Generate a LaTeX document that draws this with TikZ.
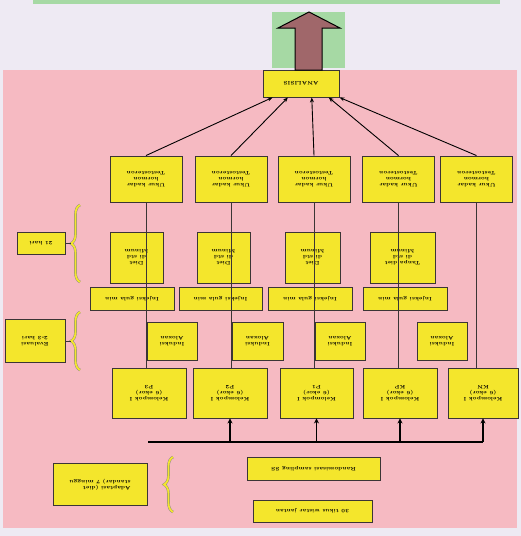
\documentclass[tikz,border=0pt]{standalone}
\usepackage{fontspec}
\usepackage{xcolor}
\usepackage{tikz}
\usetikzlibrary{arrows.meta,calc,decorations.pathreplacing}
\definecolor{lav}{HTML}{EEEAF3}
\definecolor{pinkbg}{HTML}{F6BAC2}
\definecolor{boxY}{HTML}{F4E62C}
\definecolor{boxD}{HTML}{3B3535}
\definecolor{grn}{HTML}{A6D9A4}
\definecolor{brn}{HTML}{A0676A}

\tikzset{
  box/.style={draw=boxD, line width=0.9pt, fill=boxY, rotate=180, inner sep=1pt, align=center,
    font=\fontsize{5}{6}\selectfont\bfseries},
  link/.style={boxD, line width=0.6pt},
  toan/.style={-{Stealth[length=5pt,width=4pt]}, line width=0.9pt, black},
  upar/.style={-{Stealth[length=5pt,width=5pt]}, line width=1.8pt, black},
  brc/.style={decorate, decoration={brace, amplitude=9pt}, draw=boxD!60, double=boxY,
    double distance=1.8pt, line width=0.4pt},
}

\begin{document}
\begin{tikzpicture}[x=1pt, y=-1pt]
\useasboundingbox (0,0) rectangle (521,536);
\fill[lav] (0,0) rectangle (521,536);
\fill[grn] (33,0) rectangle (500,3.5);
\fill[grn] (272,12) rectangle (345,68);
\fill[pinkbg] (3,70) rectangle (517,528);

% top row
\node[box, minimum width=76pt, minimum height=27pt] (anal) at (301,83.5) {ANALISIS};
\draw[fill=brn, line width=1pt] (295,70) -- (295,28) -- (278,28) -- (309,12) -- (340,28) -- (322,28) -- (322,70) -- cycle;

\node[box, minimum width=72pt, minimum height=46pt] (u1) at (146,179) {Ukur kadar\\ hormon\\ Testosteron};
\node[box, minimum width=72pt, minimum height=46pt] (u2) at (231,179) {Ukur kadar\\ hormon\\ Testosteron};
\node[box, minimum width=72pt, minimum height=46pt] (u3) at (314,179) {Ukur kadar\\ hormon\\ Testosteron};
\node[box, minimum width=72pt, minimum height=46pt] (u4) at (398.5,179) {Ukur kadar\\ hormon\\ Testosteron};
\node[box, minimum width=72pt, minimum height=46pt] (u5) at (476.5,179) {Ukur kadar\\ hormon\\ Testosteron};

\draw[toan] (u1.south) -- ($(anal.north east)!0.13!(anal.north west)$);
\draw[toan] (u2.south) -- ($(anal.north east)!0.33!(anal.north west)$);
\draw[toan] (u3.south) -- ($(anal.north east)!0.64!(anal.north west)$);
\draw[toan] (u4.south) -- ($(anal.north east)!0.86!(anal.north west)$);
\draw[toan] (u5.south) -- (anal.north west);

% treatment
\node[box, minimum width=53pt, minimum height=51pt] (d1) at (136.5,257.5) {Diet\\ di std\\ Minum};
\node[box, minimum width=53pt, minimum height=51pt] (d2) at (223.5,257.5) {Diet\\ di std\\ Minum};
\node[box, minimum width=55pt, minimum height=51pt] (d3) at (312.5,257.5) {Diet\\ di std\\ Minum};
\node[box, minimum width=65pt, minimum height=51pt] (d4) at (402.5,257.5) {Tanpa diet\\ di std\\ Minum};

\node[box, minimum width=84pt, minimum height=23pt] (j1) at (132,298.5) {Injeksi gula min};
\node[box, minimum width=83pt, minimum height=23pt] (j2) at (220.5,298.5) {Injeksi gula min};
\node[box, minimum width=84pt, minimum height=23pt] (j3) at (310,298.5) {Injeksi gula min};
\node[box, minimum width=84pt, minimum height=23pt] (j4) at (405,298.5) {Injeksi gula min};

\node[box, minimum width=50pt, minimum height=38pt] (i1) at (172,341) {Induksi\\ Aloxan};
\node[box, minimum width=51pt, minimum height=38pt] (i2) at (257.5,341) {Induksi\\ Aloxan};
\node[box, minimum width=50pt, minimum height=38pt] (i3) at (340,341) {Induksi\\ Aloxan};
\node[box, minimum width=50pt, minimum height=38pt] (i4) at (442,341) {Induksi\\ Aloxan};

% groups
\node[box, minimum width=74pt, minimum height=50pt] (k1) at (149,393) {Kelompok I\\ (6 ekor)\\ P3};
\node[box, minimum width=74pt, minimum height=50pt] (k2) at (230,393) {Kelompok I\\ (6 ekor)\\ P2};
\node[box, minimum width=73pt, minimum height=50pt] (k3) at (316.5,393) {Kelompok I\\ (6 ekor)\\ P1};
\node[box, minimum width=74pt, minimum height=50pt] (k4) at (400,393) {Kelompok I\\ (6 ekor)\\ KP};
\node[box, minimum width=70pt, minimum height=50pt] (k5) at (483,393) {Kelompok I\\ (6 ekor)\\ KN};

\draw[link] (k1.south -| u1.north) -- (u1.north);
\draw[link] (k2.south -| u2.north) -- (u2.north);
\draw[link] (k3.south -| u3.north) -- (u3.north);
\draw[link] (k4.south -| u4.north) -- (u4.north);
\draw[link] (k5.south -| u5.north) -- (u5.north);

\coordinate (busL) at (148,442);
\coordinate (busR) at (483,442);
\draw[line width=1.1pt] (busL) -- (busR);
\draw[upar] (k2.north |- busL) -- (k2.north);
\draw[upar] (k3.north |- busL) -- (k3.north);
\draw[upar] (k4.north |- busL) -- (k4.north);
\draw[upar] (k5.north |- busL) -- (k5.north);

\node[box, minimum width=133pt, minimum height=23pt] (rand) at (313.5,468.5) {Randomisasi sampling SS};
\node[box, minimum width=119pt, minimum height=22pt] (tikus) at (312.5,511) {30 tikus wistar jantan};

% left side
\node[box, minimum width=48pt, minimum height=22pt] (hari) at (41,243.5) {21 hari};
\node[box, minimum width=60pt, minimum height=43pt] (eval) at (35,341) {Evaluasi\\ 2-3 hari};
\node[box, minimum width=94pt, minimum height=42pt, align=left] (adapt) at (100,484.5) {Adaptasi (diet\\ standar) 7 minggu};

\draw[brc] (80,282) -- (80,205);
\draw[brc] (80,370) -- (80,312);
\draw[brc] (173,512) -- (173,457);
\coordinate (t1) at (71,243.5);
\coordinate (t2) at (71,341);
\draw[link, line width=0.9pt] (hari.west) -- (t1);
\draw[link, line width=0.9pt] (eval.west) -- (t2);
\end{tikzpicture}
\end{document}
